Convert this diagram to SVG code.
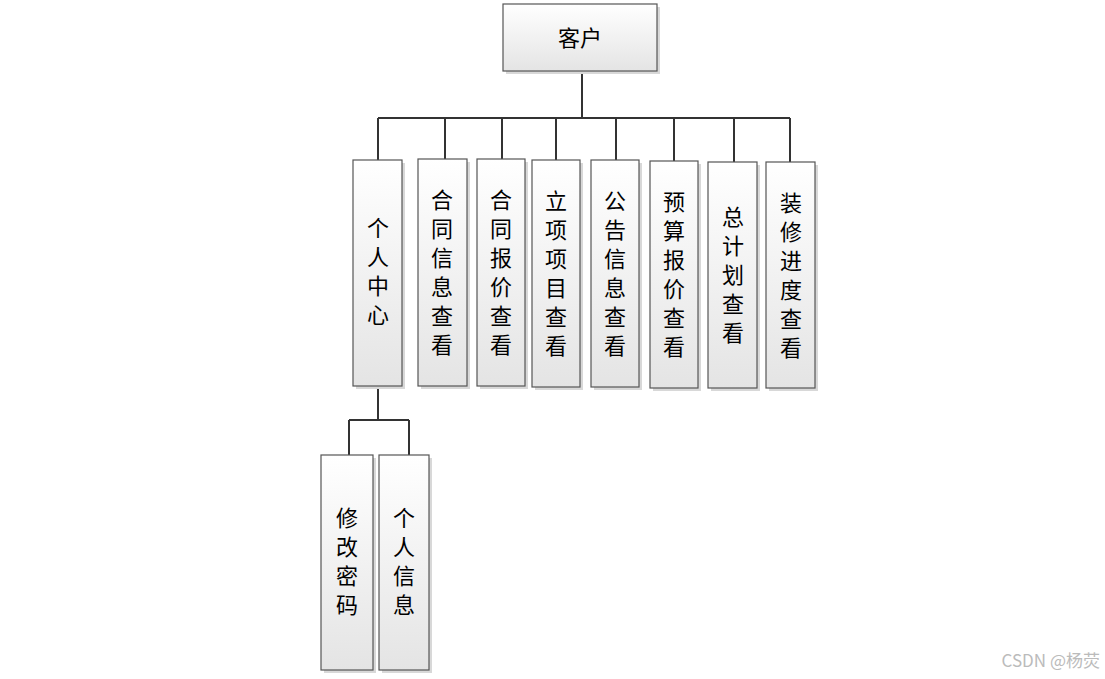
<svg xmlns="http://www.w3.org/2000/svg" width="1105" height="679" viewBox="0 0 1105 679">
<defs>
<linearGradient id="g" x1="0" y1="0" x2="0" y2="1"><stop offset="0" stop-color="#ffffff"/><stop offset="1" stop-color="#e4e4e4"/></linearGradient>
<style>
.b{fill:url(#g);stroke:#555;stroke-width:1.2}
.s{fill:#d8d8d8}
.t{font-family:"Noto Sans CJK SC","Liberation Sans",sans-serif;font-size:22px;fill:#000;text-anchor:middle}
.c{stroke:#333;stroke-width:2;fill:none}
</style>
</defs>
<rect width="1105" height="679" fill="#fff"/>
<g id="connectors">
<path class="c" d="M582 71V118M378 118H790M378 118V160M445 118V159M502 118V159M556 118V160M616 118V160M674 118V161M734 118V162M790 118V162"/>
<path class="c" d="M378 386V420M349 420H409M349 420V455M409 420V455"/>
</g>
<g id="n0"><rect class="s" x="506" y="7" width="154" height="67"/><rect class="b" x="503" y="4" width="154" height="67"/><text class="t" x="580" y="46">客户</text></g>
<g id="n1"><rect class="s" x="356" y="163" width="49" height="226"/><rect class="b" x="353" y="160" width="49" height="226"/><text class="t" x="378" y="236">个</text><text class="t" x="378" y="265">人</text><text class="t" x="378" y="294">中</text><text class="t" x="378" y="323">心</text></g>
<g id="n2"><rect class="s" x="421" y="162" width="49" height="227"/><rect class="b" x="418" y="159" width="49" height="227"/><text class="t" x="442" y="208">合</text><text class="t" x="442" y="237">同</text><text class="t" x="442" y="266">信</text><text class="t" x="442" y="295">息</text><text class="t" x="442" y="324">查</text><text class="t" x="442" y="353">看</text></g>
<g id="n3"><rect class="s" x="480" y="162" width="48" height="227"/><rect class="b" x="477" y="159" width="48" height="227"/><text class="t" x="501" y="208">合</text><text class="t" x="501" y="237">同</text><text class="t" x="501" y="266">报</text><text class="t" x="501" y="295">价</text><text class="t" x="501" y="324">查</text><text class="t" x="501" y="353">看</text></g>
<g id="n4"><rect class="s" x="535" y="163" width="48" height="227"/><rect class="b" x="532" y="160" width="48" height="227"/><text class="t" x="556" y="209">立</text><text class="t" x="556" y="238">项</text><text class="t" x="556" y="267">项</text><text class="t" x="556" y="296">目</text><text class="t" x="556" y="325">查</text><text class="t" x="556" y="354">看</text></g>
<g id="n5"><rect class="s" x="594" y="163" width="48" height="227"/><rect class="b" x="591" y="160" width="48" height="227"/><text class="t" x="615" y="209">公</text><text class="t" x="615" y="238">告</text><text class="t" x="615" y="267">信</text><text class="t" x="615" y="296">息</text><text class="t" x="615" y="325">查</text><text class="t" x="615" y="354">看</text></g>
<g id="n6"><rect class="s" x="653" y="164" width="48" height="227"/><rect class="b" x="650" y="161" width="48" height="227"/><text class="t" x="674" y="210">预</text><text class="t" x="674" y="239">算</text><text class="t" x="674" y="268">报</text><text class="t" x="674" y="297">价</text><text class="t" x="674" y="326">查</text><text class="t" x="674" y="355">看</text></g>
<g id="n7"><rect class="s" x="711" y="165" width="49" height="226"/><rect class="b" x="708" y="162" width="49" height="226"/><text class="t" x="733" y="225">总</text><text class="t" x="733" y="254">计</text><text class="t" x="733" y="283">划</text><text class="t" x="733" y="312">查</text><text class="t" x="733" y="341">看</text></g>
<g id="n8"><rect class="s" x="769" y="165" width="49" height="226"/><rect class="b" x="766" y="162" width="49" height="226"/><text class="t" x="791" y="211">装</text><text class="t" x="791" y="240">修</text><text class="t" x="791" y="269">进</text><text class="t" x="791" y="298">度</text><text class="t" x="791" y="327">查</text><text class="t" x="791" y="356">看</text></g>
<g id="n9"><rect class="s" x="324" y="458" width="52" height="215"/><rect class="b" x="321" y="455" width="52" height="215"/><text class="t" x="347" y="526">修</text><text class="t" x="347" y="555">改</text><text class="t" x="347" y="584">密</text><text class="t" x="347" y="613">码</text></g>
<g id="n10"><rect class="s" x="382" y="458" width="50" height="215"/><rect class="b" x="379" y="455" width="50" height="215"/><text class="t" x="404" y="526">个</text><text class="t" x="404" y="555">人</text><text class="t" x="404" y="584">信</text><text class="t" x="404" y="613">息</text></g>
<text x="1100" y="667" font-family="Noto Sans CJK SC,Liberation Sans,sans-serif" font-size="17" fill="#bbb" text-anchor="end">CSDN @杨荧</text>
</svg>
